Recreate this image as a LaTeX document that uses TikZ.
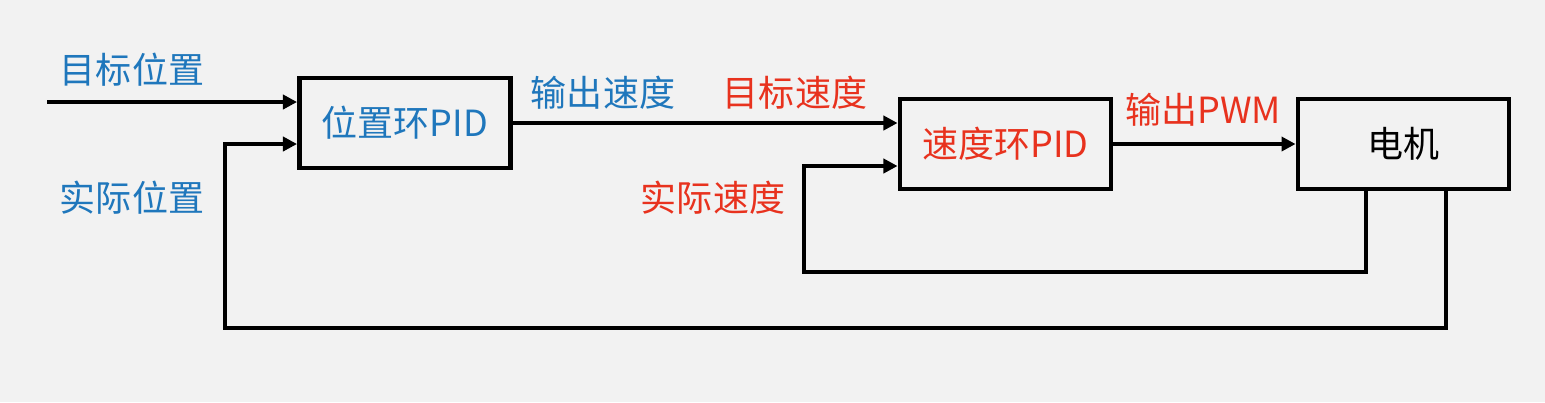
\documentclass[tikz,border=0pt]{standalone}
\usepackage{fontspec}
\setmainfont{Noto Sans CJK SC}
\definecolor{bgray}{HTML}{F2F2F2}
\definecolor{lblue}{HTML}{1F77BC}
\definecolor{lred}{HTML}{E8321E}
\usetikzlibrary{arrows.meta,positioning,calc}
\tikzset{
  box/.style={draw=black,line width=2.8pt,minimum width=4.22cm,minimum height=1.8cm,
              inner sep=0pt,align=center,font=\fontsize{20.5}{24}\selectfont},
  arr/.style={-{Triangle[length=8pt,width=8pt]},line width=2.3pt,black},
  lbl/.style={font=\fontsize{20.5}{24}\selectfont,inner sep=0pt}
}
\begin{document}
\begin{tikzpicture}
    \fill[bgray] (0,0) rectangle (30.9,-8.04);
    \useasboundingbox (0,0) rectangle (30.9,-8.04);
    \node[box,text=lblue] (pos) at (8.1,-2.46) {位置环PID};
    \node[box,text=lred] (spd) at (20.11,-2.88) {速度环PID};
    \node[box] (mot) at (28.07,-2.88) {电机};
    \coordinate (in) at (0.94,-2.04);
    \coordinate (fbs) at (16.08,-5.44);
    \coordinate (fbp) at (4.5,-6.56);
    % forward path
    \draw[arr] (in) -- (in -| pos.west);
    \draw[arr] (pos.east) -- (pos.east -| spd.west);
    \draw[arr] (spd.east) -- (mot.west);
    % feedback loops
    \draw[arr] ([xshift=-0.75cm]mot.south) |- (fbs) |- ([yshift=-0.44cm]spd.west);
    \draw[arr] ([xshift=0.85cm]mot.south) |- (fbp) |- ([yshift=-0.42cm]pos.west);
    % labels
    \node[lbl,text=lblue] (tpos) at (2.64,-1.4) {目标位置};
    \node[lbl,text=lblue] (apos) at (2.64,-3.96) {实际位置};
    \node[lbl,text=lblue] (ospd) at (12.06,-1.86) {输出速度};
    \node[lbl,text=lred] (tspd) at (15.9,-1.86) {目标速度};
    \node[lbl,text=lred] (aspd) at (14.26,-3.96) {实际速度};
    \node[lbl,text=lred] (opwm) at (24.06,-2.2) {输出PWM};
\end{tikzpicture}
\end{document}
